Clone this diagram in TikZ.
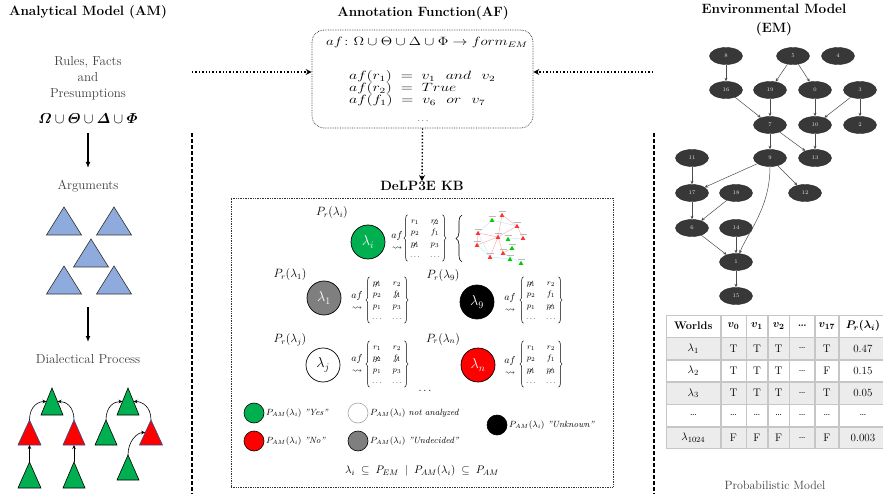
\documentclass[tikz,border=0pt]{standalone}
\usepackage{amsmath,amssymb}
\usepackage{graphicx}
\usetikzlibrary{arrows.meta,shapes.geometric,decorations.pathreplacing,matrix,calc}
\definecolor{kbgreen}{HTML}{00B050}
\definecolor{kbred}{HTML}{FF0000}
\definecolor{kbgray}{HTML}{7F7F7F}
\definecolor{argblue}{HTML}{8FAADC}
\definecolor{rededge}{HTML}{2F528F}
\definecolor{emnode}{HTML}{383838}
\definecolor{txtgray}{HTML}{404040}
\newcommand{\strk}[1]{\text{\ooalign{$#1$\cr\hidewidth\raisebox{-0.45ex}{\rotatebox{60}{\rule{1.9ex}{0.4pt}}}\hidewidth\cr}}}
\newcommand{\kbblock}[9]{%
  \node[kbm] (#1) at (#2,#3) {$\begin{matrix}#4 & #5\\ #6 & #7\\ #8 & #9\\ \ldots & \ldots\end{matrix}$};
  \draw[kbbrace] (#1.south west) -- (#1.north west);
  \draw[kbbrace] (#1.north east) -- (#1.south east);
}
\newcommand{\mytri}[6]{%
  \draw[#6] ({#2-#4/2},#3) -- ({#2+#4/2},#3) -- (#2,{#3-#5}) -- cycle;
  \coordinate (#1a) at (#2,{#3-#5});
  \coordinate (#1b) at (#2,#3);
  \coordinate (#1l) at ({#2-#4/4},{#3-#5/2});
  \coordinate (#1r) at ({#2+#4/4},{#3-#5/2});
}
\tikzset{
  ttl/.style={font=\fontsize{13.5}{19}\selectfont\bfseries, align=center, inner sep=0},
  gtxt/.style={font=\fontsize{13}{16}\selectfont, text=txtgray, align=center, inner sep=0},
  bigarr/.style={line width=1.6, -{Latex[length=6,width=5]}},
  dotarr/.style={line width=1.4, dotted, -{Stealth[length=6,width=6]}},
  vdash/.style={line width=1.6, dash pattern=on 4pt off 2pt},
  argtri/.style={fill=argblue, draw=black!80, line width=0.6},
  gtri/.style={fill=kbgreen, draw=black, line width=0.6},
  rtri/.style={fill=kbred, draw=rededge, line width=0.6},
  darr/.style={line width=0.6, -{Stealth[length=4,width=3.5]}},
  aftxt/.style={font=\fontsize{12}{12}\selectfont, inner sep=0},
  prl/.style={font=\fontsize{12}{12}\selectfont, inner sep=0},
  kbc/.style={circle, draw=black, line width=0.7, minimum size=34, inner sep=0, font=\fontsize{14}{14}\selectfont},
  leads/.style={font=\fontsize{10}{12.5}\selectfont, align=center, inner sep=0},
  kbm/.style={font=\fontsize{8}{11.5}\selectfont, inner xsep=2.5pt, inner ysep=0},
  kbbrace/.style={decorate, decoration={brace, amplitude=3.5}, line width=0.5},
  legc/.style={circle, draw=black, line width=0.6, minimum size=20, inner sep=0},
  legt/.style={font=\fontsize{9}{10}\selectfont, anchor=west, inner sep=0},
  emn/.style={ellipse, fill=emnode, draw=black!85, line width=0.4, minimum width=33, minimum height=17, inner sep=0, text=white!90!black, font=\fontsize{5.5}{6}\selectfont},
  eme/.style={draw=gray!60!black, line width=0.5, -{Stealth[length=3.5,width=3]}},
}
\begin{document}
\begin{tikzpicture}[x=1pt,y=-1pt]
\useasboundingbox (0,0) rectangle (883,494);
\fill[white] (0,0) rectangle (883,494);

% ---------------- Analytical Model ----------------
\node[ttl] (amt) at (88,12) {Analytical Model (AM)};
\node[gtxt] (rules) at (88,78) {Rules, Facts\\and\\Presumptions};
\node[inner sep=0, font=\fontsize{14}{14}\selectfont] (sets) at (88,119) {$\boldsymbol{\varOmega}\cup\boldsymbol{\varTheta}\cup\boldsymbol{\varDelta}\cup\boldsymbol{\varPhi}$};
\coordinate (a1s) at (88,133);
\coordinate (a1e) at (88,168);
\draw[bigarr] (a1s) -- (a1e);
\node[gtxt] (args) at (88,186) {Arguments};
\mytri{ba}{64}{235}{35}{28}{argtri}
\mytri{bb}{114}{235}{35}{28}{argtri}
\mytri{bc}{91}{267}{35}{28}{argtri}
\mytri{bd}{64}{294}{35}{28}{argtri}
\mytri{be}{114}{294}{35}{28}{argtri}
\coordinate (a2s) at (88,307);
\coordinate (a2e) at (88,342);
\draw[bigarr] (a2s) -- (a2e);
\node[gtxt] (dial) at (88,359) {Dialectical Process};
% tree 1
\mytri{aa}{52}{415}{22}{27}{gtri}
\mytri{ab}{29.5}{445}{23}{25}{rtri}
\mytri{ac}{74}{445}{22}{25}{rtri}
\mytri{ad}{29.5}{488}{23}{26}{gtri}
\mytri{ae}{74}{488}{22}{26}{gtri}
\draw[darr] (aba) .. controls +(0,-14) and +(-8,0) .. (aal);
\draw[darr] (aca) .. controls +(0,-14) and +(8,0) .. (aar);
\draw[darr] (ada) -- (abb);
\draw[darr] (aea) -- (acb);
% tree 2
\mytri{ta}{128}{415}{22}{27}{gtri}
\mytri{tb}{106}{445}{22}{25}{gtri}
\mytri{tc}{151}{445}{23}{25}{rtri}
\mytri{td}{128}{480}{22}{25}{gtri}
\draw[darr] (tba) .. controls +(0,-14) and +(-8,0) .. (tal);
\draw[darr] (tca) .. controls +(0,-14) and +(8,0) .. (tar);
\draw[darr] (tda) .. controls +(0,-14) and +(-8,0) .. (tcl);

% ---------------- separators ----------------
\coordinate (d1t) at (192,133);
\coordinate (d1b) at (192,494);
\draw[vdash] (d1t) -- (d1b);
\coordinate (d2t) at (654,133);
\coordinate (d2b) at (654,494);
\draw[vdash] (d2t) -- (d2b);

% ---------------- Annotation function ----------------
\node[ttl] (aft) at (423,13) {Annotation Function(AF)};
\node[draw=black!80, densely dotted, line width=0.7, rounded corners=12, minimum width=221, minimum height=98, inner sep=0] (af) at (422.5,79) {};
\node[aftxt] (af0) at (427,43) {\scalebox{1.25}[1]{$af\colon\Omega\cup\Theta\cup\Delta\cup\Phi\rightarrow form_{EM}$}};
\node[aftxt, anchor=west] (af1) at (349,77) {\scalebox{1.32}[1]{$af(r_1) \;=\; v_1~~and~~v_2$}};
\node[aftxt, anchor=west] (af2) at (349,89) {\scalebox{1.32}[1]{$af(r_2) \;=\; True$}};
\node[aftxt, anchor=west] (af3) at (349,101) {\scalebox{1.32}[1]{$af(f_1) \;=\; v_6~~or~~v_7$}};
\node[aftxt, font=\fontsize{9}{9}\selectfont] (af4) at (423,121) {$\ldots$};
\coordinate (lin) at (192,72);
\coordinate (rin) at (653,72);
\draw[dotarr] (lin) -- (lin -| af.west);
\draw[dotarr] (rin) -- (rin -| af.east);

% ---------------- DeLP3E KB ----------------
\node[ttl] (kbt) at (422,186) {DeLP3E KB};
\draw[dotarr] (af.south) -- (kbt.north);
\node[draw=black!80, densely dotted, line width=0.7, minimum width=382, minimum height=289, inner sep=0] (kb) at (422,342.5) {};

% lambda_i
\node[prl] (pri) at (332,213) {$P_r(\lambda_i)$};
\node[kbc, fill=kbgreen, text=white] (li) at (368,242) {$\lambda_i$};
\node[leads] (afi) at (397,241) {$af$\\$\rightsquigarrow$};
\kbblock{mi}{425}{238}{r_1}{\strk{r_2}}{p_2}{f_1}{\strk{p_1}}{p_3}
\coordinate (brb) at (462,262);
\coordinate (brt) at (462,215);
\draw[decorate, decoration={brace, amplitude=6}, line width=0.6] (brb) -- (brt);
% tiny argument graph
\foreach \n/\x/\y in {g1/492/220, r1/502/215, r2/517/226, r3/478/233, r4/498/237, g2/508/239, r5/477/245, g3/512/248, r6/503/253, r7/490/257, g4/510/259, r8/523/238, g5/521/263}
  \coordinate (\n) at (\x,\y);
\foreach \a/\b in {r4/r3, r4/r5, r4/r6, r4/r7, r4/r2, r1/r2, r1/r4, r3/r5, r6/g3, r2/r8}
  \draw[red!35, line width=0.4] (\a) -- (\b);
\foreach \a/\b in {r3/r7, g1/r2, r5/r7, r7/g4, r6/g5, g1/r3, g2/r8}
  \draw[cyan!30, line width=0.4] (\a) -- (\b);
\foreach \n/\x/\y/\c in {g1/492/220/green!80!black, r1/502/215/red!80, r2/517/226/red!80, r3/478/233/red!80, r4/498/237/red!80, g2/508/239/green!80!black, r5/477/245/red!80, g3/512/248/green!80!black, r6/503/253/red!80, r7/490/257/red!80, g4/510/259/green!80!black, r8/523/238/red!80, g5/521/263/green!80!black}
{
  \fill[\c] (\x-2.3,\y+1.8) -- (\x+2.3,\y+1.8) -- (\x,\y-2.2) -- cycle;
  \draw[gray!55, line width=0.5] (\x-3.5,\y-4.2) -- (\x+3.5,\y-4.2);
}

% lambda_1
\node[prl] (pr1) at (290,275) {$P_r(\lambda_1)$};
\node[kbc, fill=kbgray, text=white] (l1) at (324,298) {$\lambda_1$};
\node[leads] (af1k) at (357,301) {$af$\\$\rightsquigarrow$};
\kbblock{m1}{387}{300}{\strk{p_1}}{r_2}{p_2}{\strk{f_1}}{p_1}{p_3}
% lambda_9
\node[prl] (pr9) at (443,276) {$P_r(\lambda_9)$};
\node[kbc, fill=black, text=white] (l9) at (477,302) {$\lambda_9$};
\node[leads] (af9k) at (510,303) {$af$\\$\rightsquigarrow$};
\kbblock{m9}{541}{300}{\strk{p_1}}{r_2}{p_2}{f_1}{p_1}{\strk{p_3}}
% lambda_j
\node[prl] (prj) at (290,340) {$P_r(\lambda_j)$};
\node[kbc, fill=white, text=black] (lj) at (323,365) {$\lambda_j$};
\node[leads] (afjk) at (357,364) {$af$\\$\rightsquigarrow$};
\kbblock{mj}{387}{364}{r_1}{r_2}{\strk{p_2}}{\strk{f_1}}{p_1}{p_3}
% lambda_n
\node[prl] (prn) at (443,339) {$P_r(\lambda_n)$};
\node[kbc, fill=kbred, text=white] (ln) at (478,365) {$\lambda_n$};
\node[leads] (afnk) at (510,366) {$af$\\$\rightsquigarrow$};
\kbblock{mn}{541}{364}{r_1}{r_2}{p_2}{f_1}{\strk{p_1}}{\strk{p_3}}
\node[inner sep=0, font=\fontsize{11}{11}\selectfont] (kdots) at (425,391) {$\ldots$};

% legend
\node[legc, fill=kbgreen] (lg1) at (254,413) {};
\node[legt] (lt1) at (266,413) {$P_{AM}(\lambda_i)$ \textit{"Yes"}};
\node[legc, fill=white, draw=gray!70] (lg2) at (358,413) {};
\node[legt] (lt2) at (370,413) {$P_{AM}(\lambda_i)$ \textit{not analyzed}};
\node[legc, fill=kbred] (lg3) at (254,441) {};
\node[legt] (lt3) at (266,441) {$P_{AM}(\lambda_i)$ \textit{"No"}};
\node[legc, fill=kbgray] (lg4) at (358,441) {};
\node[legt] (lt4) at (370,441) {$P_{AM}(\lambda_i)$ \textit{"Undecided"}};
\node[legc, fill=black] (lg5) at (497,425) {};
\node[legt] (lt5) at (509,425) {$P_{AM}(\lambda_i)$ \textit{"Unknown"}};
\node[inner sep=0, font=\fontsize{11}{11}\selectfont] (cond) at (422,471) {$\lambda_i \;\subseteq\; P_{EM} \;\mid\; P_{AM}(\lambda_i) \;\subseteq\; P_{AM}$};

% ---------------- Environmental Model ----------------
\node[ttl] (emt) at (774,20) {Environmental Model\\(EM)};
\node[emn] (e8) at (726,56) {8};
\node[emn] (e5) at (793,56) {5};
\node[emn] (e4) at (838,56) {4};
\node[emn] (e16) at (726,90) {16};
\node[emn] (e19) at (770,90) {19};
\node[emn] (e0) at (815,90) {0};
\node[emn] (e3) at (860,90) {3};
\node[emn] (e7) at (770,125) {7};
\node[emn] (e10) at (815,125) {10};
\node[emn] (e2) at (860,125) {2};
\node[emn] (e11) at (692,158) {11};
\node[emn] (e9) at (770,158) {9};
\node[emn] (e13) at (815,158) {13};
\node[emn] (e17) at (692,193) {17};
\node[emn] (e18) at (736,193) {18};
\node[emn] (e12) at (805,193) {12};
\node[emn] (e6) at (692,228) {6};
\node[emn] (e14) at (736,228) {14};
\node[emn] (e1) at (736,262) {1};
\node[emn] (e15) at (736,296) {15};
\foreach \a/\b in {8/16, 5/19, 5/0, 16/7, 19/7, 0/10, 3/10, 3/2, 7/9, 7/13, 10/13, 11/17, 9/17, 9/12, 17/6, 18/6, 6/1, 14/1, 1/15}
  \draw[eme] (e\a) -- (e\b);
\draw[eme] (e9) .. controls +(0,50) and +(12,-30) .. (e1);

% table
\matrix (tbl) [matrix of nodes, ampersand replacement=\&, anchor=north west, inner sep=0, outer sep=0,
  row sep=0pt, column sep=0pt,
  nodes={draw=gray!45, line width=0.6, minimum height=21.7, inner sep=0, outer sep=0, anchor=center, font=\fontsize{11}{12}\selectfont},
  column 1/.style={nodes={minimum width=54}},
  column 2/.style={nodes={minimum width=25}},
  column 3/.style={nodes={minimum width=21}},
  column 4/.style={nodes={minimum width=21}},
  column 5/.style={nodes={minimum width=25}},
  column 6/.style={nodes={minimum width=23}},
  column 7/.style={nodes={minimum width=48}},
  row 2/.style={nodes={fill=gray!15}},
  row 4/.style={nodes={fill=gray!15}},
  row 6/.style={nodes={fill=gray!15}}] at (666,315) {
  \textbf{Worlds} \& $\boldsymbol{v_0}$ \& $\boldsymbol{v_1}$ \& $\boldsymbol{v_2}$ \& \textbf{\dots} \& $\boldsymbol{v_{17}}$ \& $\boldsymbol{P_r(\lambda_i)}$ \\
  $\lambda_1$ \& T \& T \& T \& \dots \& T \& 0.47 \\
  $\lambda_2$ \& T \& T \& T \& \dots \& F \& 0.15 \\
  $\lambda_3$ \& T \& T \& T \& \dots \& T \& 0.05 \\
  \dots \& \dots \& \dots \& \dots \& \dots \& \dots \& \dots \\
  $\lambda_{1024}$ \& F \& F \& F \& \dots \& F \& 0.003 \\
};
\node[gtxt, font=\fontsize{12}{14}\selectfont] (probm) at (775,485) {Probabilistic Model};
\end{tikzpicture}
\end{document}
